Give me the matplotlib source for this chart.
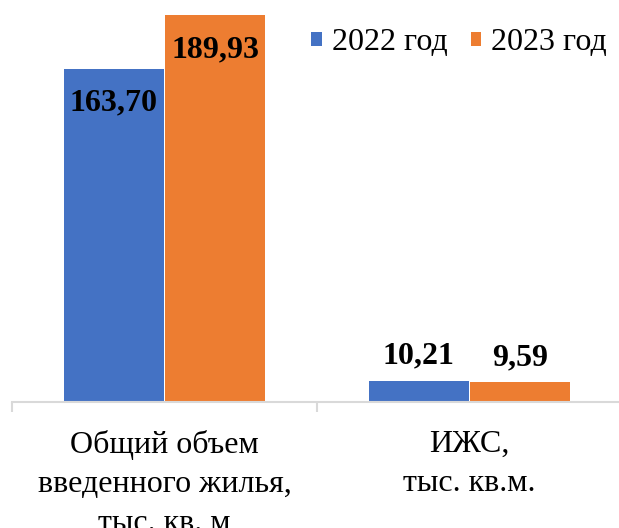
import matplotlib
matplotlib.use("Agg")
import matplotlib.pyplot as plt
import numpy as np

plt.rcParams['font.family'] = ['Liberation Serif', 'DejaVu Serif']

categories = ["Общий объем\nвведенного жилья,\nтыс. кв. м", "ИЖС,\nтыс. кв.м."]
series_names = ["2022 год", "2023 год"]
values_2022 = [163.70, 10.21]
values_2023 = [189.93, 9.59]
label_2022 = ["163,70", "10,21"]
label_2023 = ["189,93", "9,59"]

colors = ["#4472C4", "#ED7D31"]

fig = plt.figure(figsize=(6.19, 5.28), dpi=100)
ax = fig.add_axes([12 / 619, 126 / 528, 610 / 619, 402 / 528])

x = np.arange(len(categories))
w = 0.327
b1 = ax.bar(x - 0.166, values_2022, w, color=colors[0], label=series_names[0])
b2 = ax.bar(x + 0.166, values_2023, w, color=colors[1], label=series_names[1])

ax.set_xlim(-0.5, 1.5)
ax.set_ylim(0, 197.5)

# labels: inside the tall bars, above the short ones
for bars, labs in ((b1, label_2022), (b2, label_2023)):
    for rect, lab in zip(bars, labs):
        h = rect.get_height()
        off = -34 if h > 50 else 25
        ax.annotate(lab, (rect.get_x() + rect.get_width() / 2, h),
                    xytext=(0, off), textcoords='offset pixels',
                    ha='center', va='center', fontsize=23, fontweight='bold')

for s in ['top', 'right', 'left']:
    ax.spines[s].set_visible(False)
ax.spines['bottom'].set_color('#D9D9D9')
ax.spines['bottom'].set_linewidth(1.5)
ax.set_yticks([])

ax.set_xticks(x)
ax.set_xticklabels(categories, fontsize=23, linespacing=1.45)
ax.tick_params(axis='x', which='major', length=0, pad=20)
ax.set_xticks([-0.5, 0.5, 1.5], minor=True)
ax.tick_params(axis='x', which='minor', length=7, width=1.5, color='#D9D9D9')

fig.legend(loc='center left', bbox_to_anchor=(311 / 619, 1 - 43 / 528),
           bbox_transform=fig.transFigure, ncol=2, frameon=False,
           fontsize=23, handlelength=0.34, handleheight=0.34, handletextpad=0.31,
           columnspacing=0.72, borderaxespad=0, borderpad=0)

fig.savefig("out.png", dpi=100)
